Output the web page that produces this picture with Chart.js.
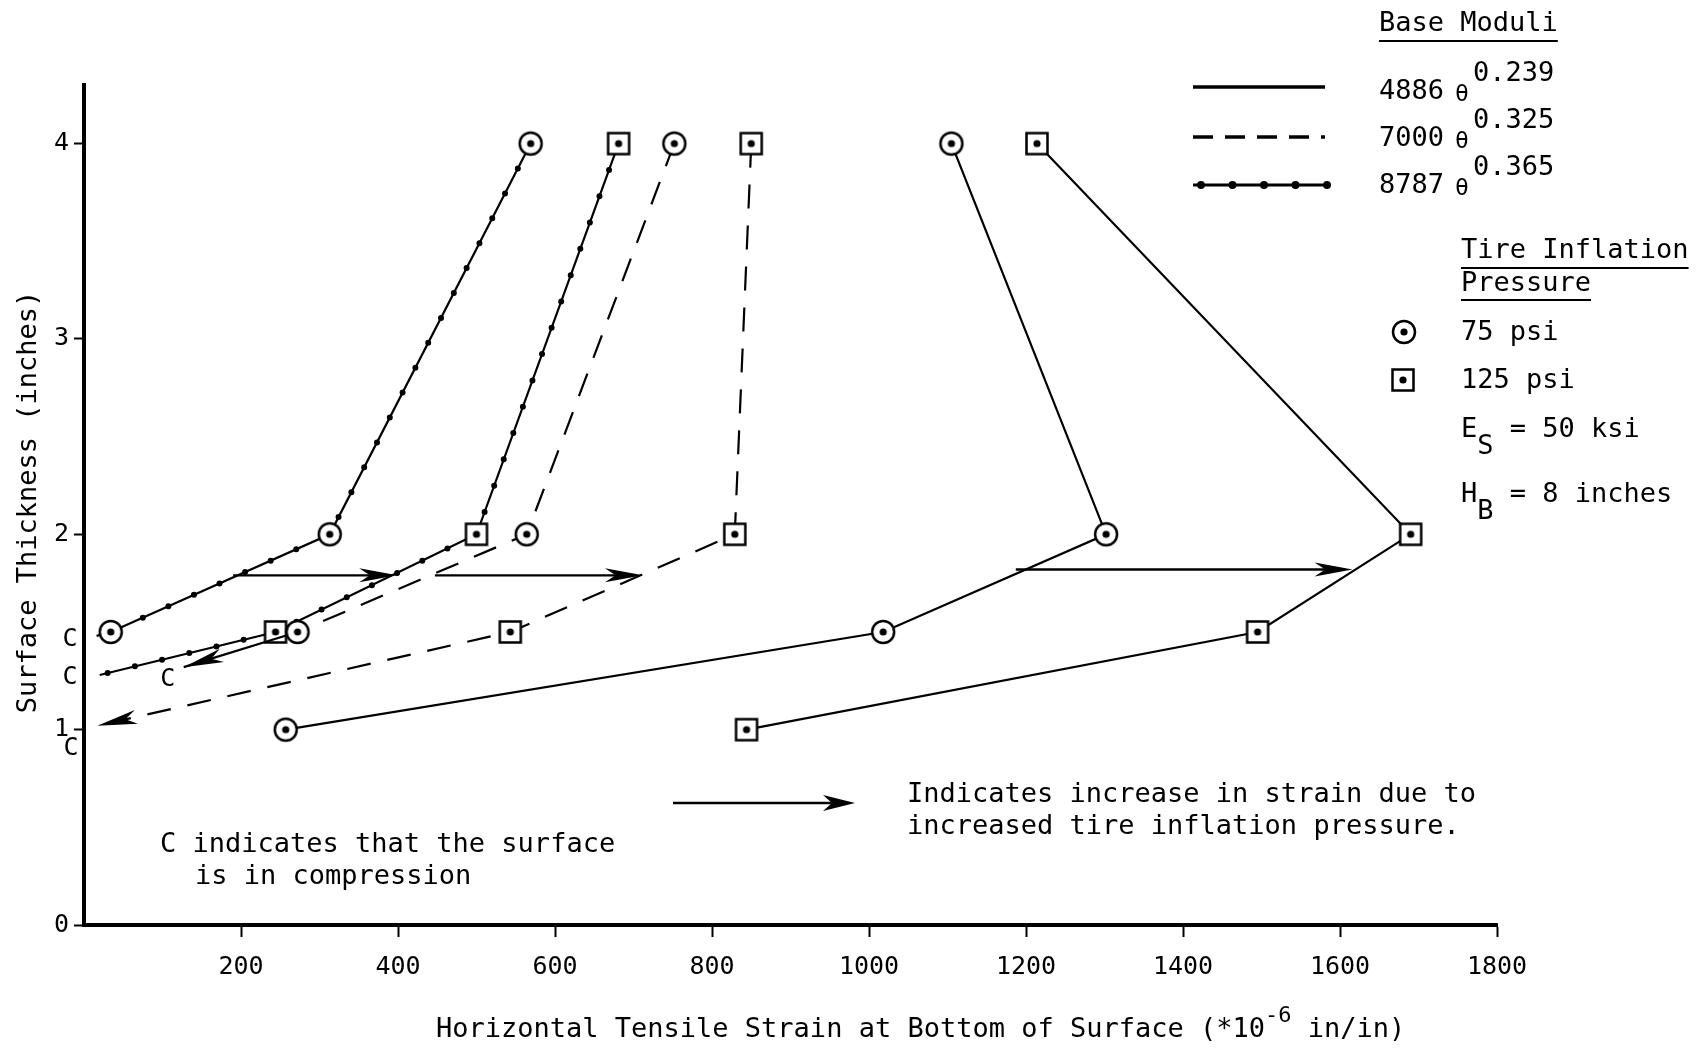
<!DOCTYPE html>
<html>
<head>
<meta charset="utf-8">
<title>Horizontal tensile strain vs surface thickness</title>
<script src="https://cdn.jsdelivr.net/npm/chart.js@4.4.1/dist/chart.umd.min.js"></script>
<style>
  html, body { margin: 0; padding: 0; background: #fff; }
  #wrap { position: relative; width: 1700px; height: 1050px; }
</style>
</head>
<body>
<div id="wrap"><canvas id="strainChart"></canvas></div>
<script>
'use strict';

/* ── Data ────────────────────────────────────────────── */

// surface thickness, inches (one value per marker along each curve)
var thickness = [4, 2, 1.5, 1];

// strain at bottom of surface, 10^-6 in/in
var strain4886at75  = [1105, 1302, 1018, 257];
var strain4886at125 = [1214, 1690, 1495, 844];
var strain7000at75  = [752, 564, 272];
var strain7000at125 = [850, 829, 543];
var strain8787at75  = [569, 313, 34];
var strain8787at125 = [681, 500, 244];

// [strain, thickness] where the thinner sections run into compression
var tail7000at75  = [127, 1.32];
var tail7000at125 = [17, 1.02];
var tail8787at75  = [16, 1.48];
var tail8787at125 = [20, 1.28];

// horizontal arrows: increase in strain from 75 to 125 psi
var shiftFrom = [190, 447, 1187];
var shiftTo   = [399, 712, 1616];
var shiftAt   = [1.79, 1.79, 1.82];

var xTicks = [200, 400, 600, 800, 1000, 1200, 1400, 1600, 1800];
var yTicks = [0, 1, 2, 3, 4];

/* ── Style helpers ───────────────────────────────────── */

var FONT = '"DejaVu Sans Mono", "Liberation Mono", monospace';
var INK  = '#000';
var DASH = [24, 17];

function makeMarker(kind) {
  var c = document.createElement('canvas');
  c.width = 30; c.height = 30;
  var g = c.getContext('2d');
  g.fillStyle = '#fff';
  g.strokeStyle = INK;
  g.lineWidth = 2.5;
  if (kind === 'circle') {
    g.beginPath(); g.arc(15, 15, 11, 0, Math.PI * 2); g.fill(); g.stroke();
  } else {
    g.fillRect(4.5, 4.5, 21, 21); g.strokeRect(4.5, 4.5, 21, 21);
  }
  g.fillStyle = INK;
  g.beginPath(); g.arc(15, 15, 3.6, 0, Math.PI * 2); g.fill();
  return c;
}
var circleMark = makeMarker('circle');
var squareMark = makeMarker('square');

function curve(strain, tail) {
  var pts = strain.map(function (s, i) { return { x: s, y: thickness[i] }; });
  if (tail) pts.push({ x: tail[0], y: tail[1] });
  return pts;
}

function dataset(strain, tail, opts) {
  var pts = curve(strain, tail);
  var ds = {
    data: pts,
    borderColor: INK,
    borderWidth: 2.2,
    borderDash: opts.dash || [],
    pointStyle: opts.marker,
    pointRadius: pts.map(function (p, i) { return i < strain.length ? 11 : 0; }),
    tension: 0,
    clip: false,
    dotted: !!opts.dotted,
    arrowEnd: !!opts.arrowEnd
  };
  if (opts.solidTail) {
    ds.segment = {
      borderDash: function (ctx) { return ctx.p1DataIndex >= strain.length ? [] : DASH; }
    };
  }
  return ds;
}

function arrowHead(ctx, x, y, angle, len, half) {
  ctx.save();
  ctx.translate(x, y);
  ctx.rotate(angle);
  ctx.beginPath();
  ctx.moveTo(0, 0);
  ctx.lineTo(-len, -half);
  ctx.lineTo(-len * 0.72, 0);
  ctx.lineTo(-len, half);
  ctx.closePath();
  ctx.fillStyle = INK;
  ctx.fill();
  ctx.restore();
}

function text(ctx, s, x, y, size, align) {
  ctx.font = size + 'px ' + FONT;
  ctx.textAlign = align || 'left';
  ctx.textBaseline = 'middle';
  ctx.fillStyle = INK;
  ctx.fillText(s, x, y);
  return ctx.measureText(s).width;
}

function dots(ctx, pts, gap, size) {
  ctx.save();
  ctx.setLineDash([0, gap]);
  ctx.lineCap = 'round';
  ctx.lineWidth = size;
  ctx.strokeStyle = INK;
  ctx.beginPath();
  pts.forEach(function (p, i) { if (i) ctx.lineTo(p.x, p.y); else ctx.moveTo(p.x, p.y); });
  ctx.stroke();
  ctx.restore();
}

function hline(ctx, x1, x2, y, w) {
  ctx.beginPath();
  ctx.moveTo(x1, y); ctx.lineTo(x2, y);
  ctx.lineWidth = w; ctx.strokeStyle = INK;
  ctx.stroke();
}

/* ── Extras: dots, arrows, labels, legend ────────────── */

var extras = {
  id: 'extras',

  beforeDatasetDraw: function (chart, args) {
    var ds = chart.data.datasets[args.index];
    if (!ds.dotted) return;
    var els = chart.getDatasetMeta(args.index).data;
    dots(chart.ctx, els.map(function (e) { return { x: e.x, y: e.y }; }), 28, 6);
  },

  afterDatasetsDraw: function (chart) {
    var ctx = chart.ctx;
    var xs = chart.scales.x, ys = chart.scales.y;

    // compression arrowheads at the ends of the tails
    chart.data.datasets.forEach(function (ds, i) {
      if (!ds.arrowEnd) return;
      var els = chart.getDatasetMeta(i).data;
      var a = els[els.length - 2], b = els[els.length - 1];
      arrowHead(ctx, b.x, b.y, Math.atan2(b.y - a.y, b.x - a.x), 40, 7);
    });

    // strain increase arrows
    ctx.save();
    shiftFrom.forEach(function (v, i) {
      var y  = ys.getPixelForValue(shiftAt[i]);
      var x1 = xs.getPixelForValue(v);
      var x2 = xs.getPixelForValue(shiftTo[i]);
      hline(ctx, x1, x2 - 20, y, 2.4);
      arrowHead(ctx, x2, y, 0, 38, 7);
    });
    ctx.restore();

    // "C" marks where the surface goes into compression
    var py = function (t) { return ys.getPixelForValue(t[1]); };
    text(ctx, 'C', 70, py(tail8787at75) + 4, 25, 'center');
    text(ctx, 'C', 70, py(tail8787at125) + 3, 25, 'center');
    text(ctx, 'C', 71, py(tail7000at125) + 23, 25, 'center');
    text(ctx, 'C', xs.getPixelForValue(tail7000at75[0]) - 16, py(tail7000at75) + 12, 25, 'center');
  },

  afterDraw: function (chart) {
    var ctx = chart.ctx;
    ctx.save();

    // axis titles
    var x = 436;
    x += text(ctx, 'Horizontal Tensile Strain at Bottom of Surface (*10', x, 1030, 27);
    x += text(ctx, '-6', x, 1016, 22);
    text(ctx, ' in/in)', x, 1030, 27);

    ctx.save();
    ctx.translate(29, 502);
    ctx.rotate(-Math.PI / 2);
    text(ctx, 'Surface Thickness (inches)', 0, 0, 27, 'center');
    ctx.restore();

    // base moduli legend
    var lx = 1379;
    var w = text(ctx, 'Base Moduli', lx, 24, 27);
    hline(ctx, lx, lx + w, 41, 2);

    hline(ctx, 1193, 1325, 87, 3.5);
    ctx.save(); ctx.setLineDash([20, 12]); hline(ctx, 1193, 1325, 137, 3.5); ctx.restore();
    hline(ctx, 1193, 1325, 185, 3);
    dots(ctx, [{ x: 1201, y: 185 }, { x: 1330, y: 185 }], 31.5, 8);

    [['4886', '0.239', 92], ['7000', '0.325', 139], ['8787', '0.365', 186]].forEach(function (r) {
      text(ctx, r[0], lx, r[2], 27);
      text(ctx, '\u03B8', 1455, r[2] + 3, 23);
      text(ctx, r[1], 1473, r[2] - 18, 27);
    });

    // tire pressure legend
    var tx = 1461;
    w = text(ctx, 'Tire Inflation', tx, 251, 27);
    hline(ctx, tx, tx + w, 268, 2);
    w = text(ctx, 'Pressure', tx, 284, 27);
    hline(ctx, tx, tx + w, 300, 2);

    ctx.drawImage(circleMark, 1404 - 15, 332 - 15);
    text(ctx, '75 psi', tx, 333, 27);
    ctx.drawImage(squareMark, 1403 - 15, 380 - 15);
    text(ctx, '125 psi', tx, 381, 27);

    ctx.font = '27px ' + FONT;
    var cw = ctx.measureText('0').width;
    text(ctx, 'E', tx, 430, 27);
    text(ctx, 'S', tx + cw, 447, 27);
    text(ctx, ' = 50 ksi', tx + cw * 2, 430, 27);
    text(ctx, 'H', tx, 495, 27);
    text(ctx, 'B', tx + cw, 512, 27);
    text(ctx, ' = 8 inches', tx + cw * 2, 495, 27);

    // notes
    hline(ctx, 673, 835, 803, 2.6);
    arrowHead(ctx, 855, 803, 0, 32, 8);
    text(ctx, 'Indicates increase in strain due to', 907, 795, 27);
    text(ctx, 'increased tire inflation pressure.', 907, 827, 27);

    text(ctx, 'C indicates that the surface', 160, 845, 27);
    text(ctx, 'is in compression', 195, 877, 27);

    ctx.restore();
  }
};

/* ── Chart ───────────────────────────────────────────── */

var tickFont = { family: FONT, size: 25 };
var plain = function (v) { return String(v); };

new Chart(document.getElementById('strainChart'), {
  type: 'line',
  data: {
    datasets: [
      dataset(strain4886at75,  null,          { marker: circleMark }),
      dataset(strain4886at125, null,          { marker: squareMark }),
      dataset(strain7000at75,  tail7000at75,  { marker: circleMark, dash: DASH, solidTail: true, arrowEnd: true }),
      dataset(strain7000at125, tail7000at125, { marker: squareMark, dash: DASH, arrowEnd: true }),
      dataset(strain8787at75,  tail8787at75,  { marker: circleMark, dotted: true }),
      dataset(strain8787at125, tail8787at125, { marker: squareMark, dotted: true })
    ]
  },
  options: {
    responsive: true,
    maintainAspectRatio: false,
    animation: false,
    events: [],
    layout: { padding: { top: 85, right: 203, bottom: 0, left: 0 } },
    plugins: {
      legend: { display: false },
      tooltip: { enabled: false }
    },
    scales: {
      x: {
        type: 'linear',
        min: 0,
        max: 1800,
        afterBuildTicks: function (s) { s.ticks = xTicks.map(function (v) { return { value: v }; }); },
        afterFit: function (s) { s.height = 125; },
        border: { display: true, color: INK, width: 4 },
        grid: { display: true, drawOnChartArea: false, drawTicks: true, tickLength: 12, tickWidth: 2, tickColor: INK },
        ticks: { color: INK, font: tickFont, padding: 15, maxRotation: 0, autoSkip: false, callback: plain }
      },
      y: {
        type: 'linear',
        min: 0,
        max: 4.3,
        afterBuildTicks: function (s) { s.ticks = yTicks.map(function (v) { return { value: v }; }); },
        afterFit: function (s) { s.width = 84; },
        border: { display: true, color: INK, width: 4 },
        grid: { display: true, drawOnChartArea: false, drawTicks: true, tickLength: 10, tickWidth: 2, tickColor: INK },
        ticks: { color: INK, font: tickFont, padding: 5, autoSkip: false, callback: plain }
      }
    }
  },
  plugins: [extras]
});
</script>
</body>
</html>
